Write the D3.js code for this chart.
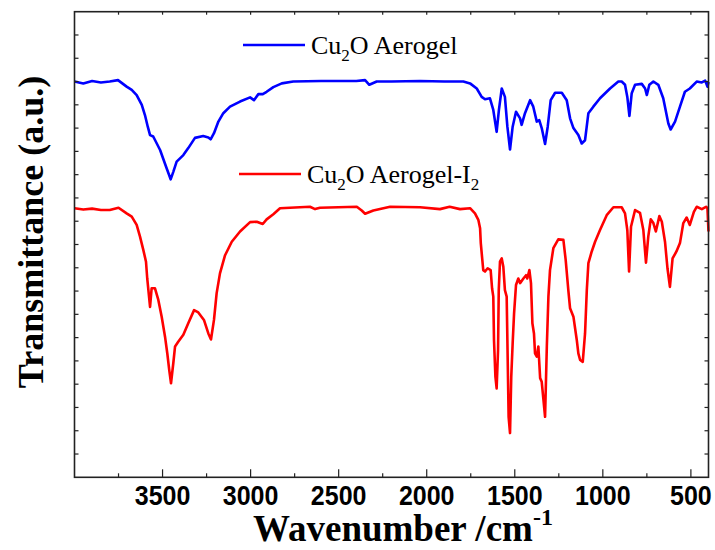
<!DOCTYPE html>
<html>
<head>
<meta charset="utf-8">
<script src="https://cdn.jsdelivr.net/npm/d3@7"></script>
<style>
  body { margin: 0; background: #fff; }
</style>
</head>
<body>
<div id="chart"></div>
<script>
// wavenumber (cm-1) / transmittance (a.u.)
const blueWn = [4000, 3950, 3900, 3850, 3800, 3753, 3704, 3675, 3647, 3618, 3600, 3584, 3571, 3553, 3514, 3480, 3454, 3439, 3420, 3382, 3354, 3316, 3269, 3240, 3227, 3208, 3183, 3155, 3117, 3060, 3003, 2981, 2956, 2931, 2909, 2871, 2823, 2758, 2600, 2400, 2350, 2326, 2284, 2200, 2038, 1900, 1792, 1754, 1716, 1688, 1669, 1641, 1622, 1603, 1590, 1574, 1556, 1542, 1527, 1512, 1493, 1470, 1461, 1442, 1413, 1395, 1375, 1361, 1347, 1328, 1313, 1296, 1271, 1233, 1205, 1186, 1167, 1139, 1120, 1101, 1082, 1054, 1016, 959, 912, 893, 874, 861, 849, 836, 817, 779, 760, 750, 736, 713, 685, 657, 628, 615, 590, 562, 534, 506, 467, 438, 419, 406, 400];
const blueT = [85.0, 84.6, 85.1, 84.8, 85.0, 85.3, 83.9, 83.2, 82.1, 80.0, 77.8, 75.3, 73.5, 73.2, 70.3, 66.7, 64.0, 65.6, 67.8, 69.2, 70.7, 72.9, 73.3, 73.0, 72.6, 73.9, 76.4, 78.2, 79.6, 80.7, 81.6, 81.0, 82.3, 82.3, 82.8, 83.8, 84.6, 85.0, 85.1, 85.1, 85.3, 84.3, 85.0, 85.0, 85.1, 85.0, 85.0, 84.6, 83.5, 81.7, 81.2, 81.4, 78.9, 74.2, 78.9, 83.5, 81.7, 75.3, 70.4, 75.3, 78.5, 77.1, 75.7, 78.2, 81.0, 79.6, 76.4, 76.7, 75.0, 71.6, 75.3, 81.0, 82.6, 82.6, 81.0, 77.1, 75.0, 73.5, 71.7, 72.4, 78.2, 79.6, 81.4, 83.5, 85.0, 85.0, 84.3, 81.7, 77.6, 82.5, 84.3, 84.5, 83.5, 82.1, 84.3, 85.0, 84.3, 81.4, 76.0, 74.7, 76.4, 79.6, 82.8, 83.5, 85.0, 84.8, 85.2, 83.9, 84.9];

const redWn = [4000, 3950, 3900, 3850, 3800, 3750, 3704, 3675, 3647, 3628, 3609, 3594, 3587, 3571, 3562, 3543, 3524, 3505, 3486, 3473, 3462, 3452, 3439, 3429, 3411, 3382, 3354, 3321, 3297, 3265, 3240, 3225, 3208, 3193, 3174, 3145, 3107, 3060, 3003, 2965, 2931, 2909, 2871, 2833, 2663, 2634, 2606, 2397, 2369, 2350, 2303, 2208, 2038, 1925, 1870, 1811, 1754, 1726, 1707, 1697, 1693, 1686, 1679, 1669, 1654, 1637, 1629, 1622, 1618, 1610, 1603, 1595, 1591, 1584, 1574, 1565, 1556, 1546, 1542, 1535, 1527, 1520, 1512, 1504, 1493, 1480, 1470, 1451, 1436, 1429, 1417, 1408, 1400, 1391, 1385, 1375, 1366, 1356, 1347, 1337, 1328, 1318, 1309, 1300, 1281, 1253, 1224, 1211, 1196, 1186, 1167, 1148, 1139, 1129, 1114, 1101, 1091, 1082, 1063, 1044, 1016, 978, 940, 893, 874, 861, 851, 840, 817, 789, 770, 755, 742, 728, 713, 699, 679, 665, 647, 633, 619, 604, 582, 562, 543, 524, 506, 483, 467, 438, 414, 406, 400];
const redT = [57.8, 57.5, 57.7, 57.4, 57.4, 57.9, 56.7, 56.0, 54.2, 51.7, 48.8, 46.3, 42.7, 36.6, 40.6, 40.6, 38.1, 34.5, 30.2, 26.6, 23.0, 20.2, 24.5, 28.1, 29.1, 30.6, 33.1, 35.9, 35.4, 33.8, 30.9, 29.6, 33.8, 39.5, 43.8, 47.7, 50.6, 52.8, 54.8, 54.9, 54.4, 55.4, 56.5, 57.8, 58.1, 57.6, 57.9, 58.1, 57.3, 56.6, 57.3, 58.1, 58.0, 57.6, 58.1, 57.6, 57.8, 56.7, 55.3, 53.5, 50.3, 47.4, 44.5, 44.2, 44.9, 44.5, 40.6, 38.8, 29.5, 21.6, 19.1, 27.3, 40.2, 46.3, 47.0, 45.2, 40.2, 38.8, 29.5, 13.0, 9.5, 21.6, 28.8, 35.2, 41.3, 42.7, 41.7, 42.7, 43.4, 42.7, 44.5, 41.7, 33.1, 30.9, 26.6, 25.9, 28.1, 21.3, 20.5, 16.6, 13.0, 28.1, 38.8, 44.5, 49.2, 51.1, 51.0, 46.7, 40.2, 36.3, 34.5, 29.5, 26.6, 25.2, 24.8, 30.9, 40.2, 46.0, 48.5, 50.6, 53.1, 56.3, 58.0, 58.0, 56.7, 53.1, 44.2, 53.8, 57.4, 56.8, 53.1, 46.1, 51.7, 55.4, 54.6, 52.8, 56.1, 54.9, 50.6, 44.9, 40.9, 47.0, 48.5, 50.3, 54.6, 55.8, 54.2, 57.0, 58.1, 57.6, 58.1, 57.8, 52.8];

const xTickValues = [3500, 3000, 2500, 2000, 1500, 1000, 500];
const seriesNames = ["Aerogel", "Aerogel-I"];
const seriesColors = ["#0000ff", "#ff0000"];

const width = 715,
    height = 550;

const svg = d3.select("#chart").append("svg")
    .attr("width", width)
    .attr("height", height);

const x = d3.scaleLinear().domain([4000, 400]).range([74.5, 708.5]);
const y = d3.scaleLinear().domain([0, 100]).range([477.3, 11.7]);

const line = d3.line()
    .x(d => x(d[0]))
    .y(d => y(d[1]));

const series = [
    d3.zip(blueWn, blueT),
    d3.zip(redWn, redT)
];

svg.append("g")
    .attr("fill", "none")
    .attr("stroke-width", 2.6)
    .attr("stroke-linejoin", "round")
    .selectAll("path")
    .data(series)
    .join("path")
    .attr("stroke", (d, i) => seriesColors[i])
    .attr("d", line);

// ticks, all pointing inward
const frame = svg.append("g").attr("stroke", "#222").attr("stroke-width", 1.2);
const minorX = d3.range(750, 4000, 500);

frame.selectAll(".xmaj").data(xTickValues).join("line")
    .attr("x1", d => x(d)).attr("x2", d => x(d))
    .attr("y1", y(0)).attr("y2", y(0) - 8);
frame.selectAll(".xmin").data(minorX).join("line")
    .attr("class", "xmin")
    .attr("x1", d => x(d)).attr("x2", d => x(d))
    .attr("y1", y(0)).attr("y2", y(0) - 4);
frame.selectAll(".xtop").data(xTickValues.concat(minorX)).join("line")
    .attr("class", "xtop")
    .attr("x1", d => x(d)).attr("x2", d => x(d))
    .attr("y1", y(100)).attr("y2", y(100) + 3);

const yTicks = d3.range(5, 100, 5);
frame.selectAll(".yl").data(yTicks).join("line")
    .attr("class", "yl")
    .attr("x1", x(4000)).attr("x2", x(4000) + 4)
    .attr("y1", d => y(d)).attr("y2", d => y(d));
frame.selectAll(".yr").data(yTicks).join("line")
    .attr("class", "yr")
    .attr("x1", x(400)).attr("x2", x(400) - 4)
    .attr("y1", d => y(d)).attr("y2", d => y(d));

svg.append("rect")
    .attr("x", x(4000)).attr("y", y(100))
    .attr("width", x(400) - x(4000))
    .attr("height", y(0) - y(100))
    .attr("fill", "none")
    .attr("stroke", "#222")
    .attr("stroke-width", 1.6);

// tick labels
svg.append("g")
    .attr("font-family", "Liberation Sans, Arial, sans-serif")
    .attr("font-weight", "bold")
    .attr("font-size", 25)
    .attr("text-anchor", "middle")
    .selectAll("text")
    .data(xTickValues)
    .join("text")
    .attr("transform", d => `translate(${x(d)},505) scale(1,1.1)`)
    .text(d => d);

// axis titles
const xTitle = svg.append("text")
    .attr("x", 253)
    .attr("y", 541)
    .attr("font-family", "Liberation Serif, Times New Roman, serif")
    .attr("font-weight", "bold")
    .attr("font-size", 37);
xTitle.append("tspan").text("Wavenumber /cm");
xTitle.append("tspan").attr("font-size", 24).attr("dy", -16).text("-1");

svg.append("text")
    .attr("transform", "translate(43,232) rotate(-90)")
    .attr("text-anchor", "middle")
    .attr("font-family", "Liberation Serif, Times New Roman, serif")
    .attr("font-weight", "bold")
    .attr("font-size", 36)
    .text("Transmittance (a.u.)");

// legend
const legendPos = [[243, 45], [239, 174]];
const legend = svg.append("g")
    .attr("font-family", "Liberation Serif, Times New Roman, serif")
    .attr("font-size", 26)
    .selectAll("g")
    .data(seriesNames)
    .join("g")
    .attr("transform", (d, i) => `translate(${legendPos[i][0]},${legendPos[i][1]})`);

legend.append("line")
    .attr("x1", 0).attr("x2", 62)
    .attr("stroke", (d, i) => seriesColors[i])
    .attr("stroke-width", 2.6);

const label = legend.append("text")
    .attr("x", 68)
    .attr("y", 9);
label.append("tspan").text("Cu");
label.append("tspan").attr("font-size", 17).attr("dy", 7).text("2");
label.append("tspan").attr("dy", -7).text("O " + "Aerogel");
label.filter((d, i) => i === 1).each(function() {
    const t = d3.select(this);
    t.append("tspan").text("-I");
    t.append("tspan").attr("font-size", 17).attr("dy", 7).text("2");
});
</script>
</body>
</html>
